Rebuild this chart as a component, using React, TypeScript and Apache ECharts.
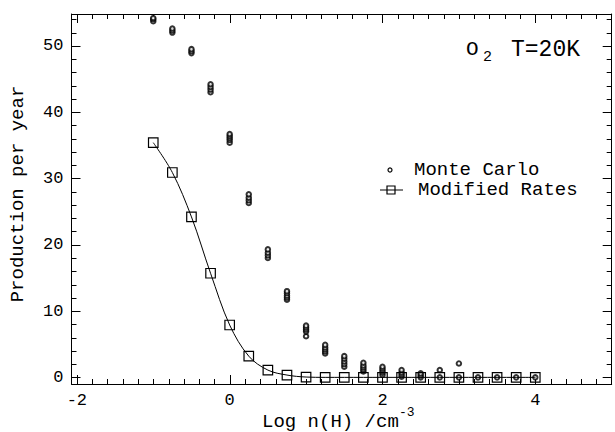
import React, { useEffect, useRef } from "react";
import * as echarts from "echarts";

// Monte Carlo runs: several values per density
const mcX = [-1, -0.75, -0.5, -0.25, 0, 0.25, 0.5, 0.75, 1, 1.25, 1.5, 1.75, 2, 2.25, 2.5, 2.75, 3, 3.25, 3.5, 3.75, 4];
const mcRuns = [
  [53.7, 54.0, 54.2],
  [52.0, 52.3, 52.6],
  [48.9, 49.2, 49.5],
  [43.0, 43.4, 43.8, 44.2],
  [35.4, 35.8, 36.1, 36.4, 36.7],
  [26.3, 26.7, 27.1, 27.6],
  [18.0, 18.4, 18.8, 19.3],
  [11.7, 12.0, 12.3, 12.7, 13.0],
  [6.2, 6.9, 7.2, 7.5, 7.8],
  [3.6, 3.9, 4.2, 4.5, 4.9],
  [1.6, 2.0, 2.4, 2.8, 3.2],
  [0.9, 1.2, 1.5, 1.8, 2.2],
  [0.35, 0.7, 1.0, 1.3, 1.6],
  [0.1, 0.4, 0.7, 1.1],
  [0.0, 0.3, 0.6],
  [0.0, 1.1],
  [0.0, 2.1],
  [0.0],
  [0.0],
  [0.0],
  [0.0],
];

// Modified rates curve
const mrX = [-1, -0.75, -0.5, -0.25, 0, 0.25, 0.5, 0.75, 1, 1.25, 1.5, 1.75, 2, 2.25, 2.5, 2.75, 3, 3.25, 3.5, 3.75, 4];
const mrY = [35.4, 30.9, 24.2, 15.7, 7.9, 3.2, 1.1, 0.35, 0.05, 0, 0, 0, 0, 0, 0, 0, 0, 0, 0, 0, 0];

// Axis ticks and labels
const xTickLabels = [-2, 0, 2, 4];
const yTickLabels = [0, 10, 20, 30, 40, 50];
const xMinorTicks = [
  -1.8, -1.6, -1.4, -1.2, -1, -0.8, -0.6, -0.4, -0.2, 0.2, 0.4, 0.6, 0.8, 1, 1.2, 1.4, 1.6, 1.8,
  2.2, 2.4, 2.6, 2.8, 3, 3.2, 3.4, 3.6, 3.8, 4.2, 4.4, 4.6, 4.8,
];
const yMinorTicks = [2, 4, 6, 8, 12, 14, 16, 18, 22, 24, 26, 28, 32, 34, 36, 38, 42, 44, 46, 48, 52, 54];

const X_MIN = -2.07;
const X_MAX = 5.0;
const Y_MIN = -1;
const Y_MAX = 54.8;

const W = 615;
const H = 432;

const MAJOR_LEN = 9;
const MINOR_LEN = 5;

const FONT = "Liberation Mono";

export default function App() {
  const ref = useRef<HTMLDivElement>(null);
  useEffect(() => {
    if (!ref.current) return;
    const chart = echarts.init(ref.current, null, { renderer: "svg" });
    const black = "#000000";

    const mcData: number[][] = [];
    mcX.forEach((x, i) => mcRuns[i].forEach((v) => mcData.push([x, v])));
    const mrData = mrX.map((x, i) => [x, mrY[i]]);

    const axisBase = {
      type: "value",
      axisLine: { show: true, onZero: false, lineStyle: { color: black, width: 1 } },
      axisTick: { show: false },
      splitLine: { show: false },
    };

    chart.setOption({
      animation: false,
      backgroundColor: "#ffffff",
      grid: { left: 71.5, right: 3.3, top: 14, bottom: 48 },
      xAxis: [
        {
          ...axisBase,
          position: "bottom",
          min: X_MIN,
          max: X_MAX,
          axisLabel: { show: true, customValues: xTickLabels, color: black, fontFamily: FONT, fontSize: 17, margin: 8 },
        },
        { ...axisBase, position: "top", min: X_MIN, max: X_MAX, axisLabel: { show: false } },
      ],
      yAxis: [
        {
          ...axisBase,
          position: "left",
          min: Y_MIN,
          max: Y_MAX,
          axisLabel: { show: true, customValues: yTickLabels, color: black, fontFamily: FONT, fontSize: 17, margin: 8 },
        },
        { ...axisBase, position: "right", min: Y_MIN, max: Y_MAX, axisLabel: { show: false } },
      ],
      series: [
        {
          name: "Modified Rates",
          type: "line",
          data: mrData,
          smooth: 0.35,
          symbol: "rect",
          symbolSize: 9.5,
          showAllSymbol: true,
          lineStyle: { color: black, width: 1 },
          itemStyle: { color: "transparent", borderColor: black, borderWidth: 1.2 },
        },
        {
          name: "Monte Carlo",
          type: "scatter",
          data: mcData,
          symbol: "emptyCircle",
          symbolSize: 4.5,
          itemStyle: { color: black, borderColor: black, borderWidth: 1.5 },
        },
      ],
    });

    // Tick marks placed through the chart's own scales
    const toPx = (p: number[]) => chart.convertToPixel({ gridIndex: 0 }, p) as number[];
    const tickEls: any[] = [];
    const tickStyle = { stroke: black, lineWidth: 1 };
    const addX = (v: number, len: number) => {
      const b = toPx([v, Y_MIN]);
      const t = toPx([v, Y_MAX]);
      const x = Math.round(b[0]) + 0.5;
      tickEls.push({ type: "line", silent: true, shape: { x1: x, y1: b[1], x2: x, y2: b[1] - len }, style: tickStyle });
      tickEls.push({ type: "line", silent: true, shape: { x1: x, y1: t[1], x2: x, y2: t[1] + len }, style: tickStyle });
    };
    const addY = (v: number, len: number) => {
      const l = toPx([X_MIN, v]);
      const r = toPx([X_MAX, v]);
      const y = Math.round(l[1]) + 0.5;
      tickEls.push({ type: "line", silent: true, shape: { x1: l[0], y1: y, x2: l[0] + len, y2: y }, style: tickStyle });
      tickEls.push({ type: "line", silent: true, shape: { x1: r[0], y1: y, x2: r[0] - len, y2: y }, style: tickStyle });
    };
    xTickLabels.forEach((v) => addX(v, MAJOR_LEN));
    xMinorTicks.forEach((v) => addX(v, MINOR_LEN));
    yTickLabels.forEach((v) => addY(v, MAJOR_LEN));
    yMinorTicks.forEach((v) => addY(v, MINOR_LEN));

    chart.setOption({
      graphic: [
        { type: "text", left: 466, top: 39, style: { text: "O", font: `21px ${FONT}`, fill: black } },
        { type: "text", left: 483, top: 50, style: { text: "2", font: `15px ${FONT}`, fill: black } },
        { type: "text", left: 511, top: 38, style: { text: "T=20K", font: `23px ${FONT}`, fill: black } },
        { type: "circle", shape: { cx: 390, cy: 170, r: 2 }, style: { fill: "#fff", stroke: black, lineWidth: 1.2 } },
        { type: "text", left: 414, top: 160, style: { text: "Monte Carlo", font: `19px ${FONT}`, fill: black } },
        { type: "line", shape: { x1: 380, y1: 190, x2: 403, y2: 190 }, style: { stroke: black, lineWidth: 1 } },
        { type: "rect", shape: { x: 387, y: 186, width: 8, height: 8 }, style: { fill: "transparent", stroke: black, lineWidth: 1.2 } },
        { type: "text", left: 418, top: 180, style: { text: "Modified Rates", font: `19px ${FONT}`, fill: black } },
        { type: "text", left: 262, top: 412, style: { text: "Log n(H) /cm", font: `19px ${FONT}`, fill: black } },
        { type: "text", left: 399, top: 406, style: { text: "-3", font: `13px ${FONT}`, fill: black } },
        {
          type: "text",
          x: 17.5,
          y: 194,
          rotation: Math.PI / 2,
          style: { text: "Production per year", font: `19px ${FONT}`, fill: black, align: "center", verticalAlign: "middle" },
        },
        ...tickEls,
      ],
    });
    return () => chart.dispose();
  }, []);
  return <div ref={ref} style={{ position: "fixed", left: 0, top: 0, width: W, height: H }} />;
}
